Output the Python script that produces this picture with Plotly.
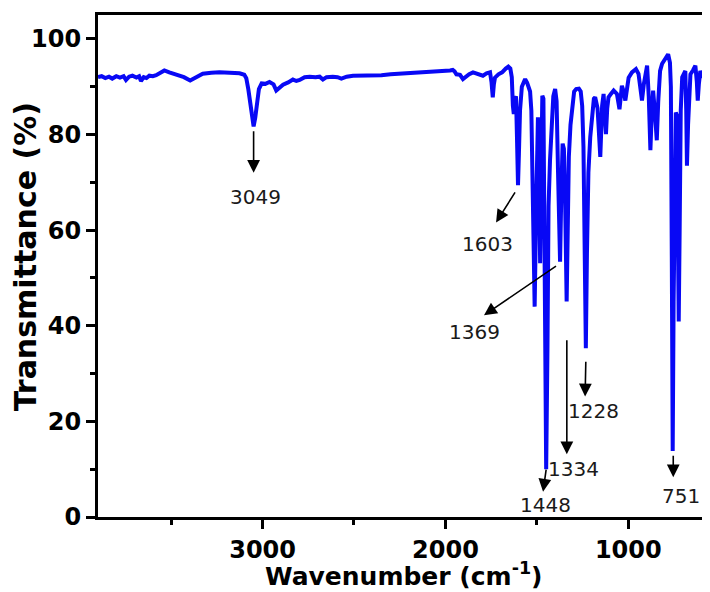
import plotly.graph_objects as go

# ---- spectrum data (wavenumber cm^-1, transmittance %) ----
wavenumber = [
    3900, 3880, 3860, 3840, 3822, 3800, 3780, 3760, 3747, 3730, 3712, 3690, 3675, 3665,
    3650, 3635, 3619, 3600, 3582, 3560, 3537, 3510, 3473, 3430, 3396, 3370, 3327, 3280,
    3236, 3180, 3126, 3100, 3089, 3078, 3071, 3060, 3049, 3040, 3031, 3020, 3005, 2985,
    2962, 2940, 2925, 2910, 2888, 2860, 2834, 2815, 2797, 2770, 2742, 2710, 2688, 2670,
    2650, 2616, 2590, 2569, 2540, 2505, 2450, 2400, 2350, 2300, 2250, 2200, 2150, 2100,
    2050, 2000, 1975, 1960, 1950, 1940, 1920, 1904, 1885, 1870, 1849, 1830, 1810, 1795,
    1775, 1756, 1748, 1741, 1735, 1729, 1710, 1690, 1670, 1656, 1645, 1637, 1631, 1626,
    1620, 1614, 1609, 1603, 1598, 1592, 1582, 1574, 1564, 1553, 1545, 1537, 1530, 1522,
    1512, 1503, 1494, 1489, 1482, 1476, 1470, 1464, 1458, 1449, 1442, 1436, 1428, 1420,
    1410, 1400, 1392, 1384, 1373, 1366, 1359, 1352, 1346, 1337, 1331, 1325, 1316, 1305,
    1296, 1285, 1270, 1260, 1252, 1245, 1238, 1232, 1226, 1218, 1208, 1199, 1188, 1181,
    1168, 1153, 1143, 1135, 1128, 1122, 1115, 1108, 1095, 1080, 1062, 1048, 1035, 1025,
    1016, 1005, 998, 980, 958, 944, 932, 925, 915, 897, 888, 879, 872, 864,
    855, 844, 836, 826, 815, 804, 790, 782, 772, 767, 762, 757, 752, 746,
    740, 734, 729, 724, 719, 713, 705, 695, 688, 683, 679, 673, 666, 660,
    645, 633, 625, 620, 614, 606, 598, 589, 580, 571, 563, 558, 550,
]
transmittance = [
    92.0, 92.2, 91.8, 92.1, 91.7, 92.2, 91.9, 92.2, 91.4, 92.1, 92.3, 91.9, 92.2, 91.2,
    92.0, 91.8, 92.3, 92.2, 92.4, 92.9, 93.4, 93.0, 92.6, 92.0, 91.3, 91.9, 92.7, 92.9,
    93.0, 92.9, 92.8, 92.5, 91.8, 89.5, 87.5, 83.5, 81.7, 83.5, 86.5, 89.5, 90.7, 90.6,
    91.0, 90.5, 89.2, 89.8, 90.4, 90.9, 91.5, 91.2, 91.4, 92.0, 92.1, 92.0, 92.1, 91.5,
    92.0, 92.1, 92.0, 91.7, 92.1, 92.3, 92.3, 92.5, 92.4, 92.6, 92.7, 92.8, 92.9, 93.0,
    93.1, 93.2, 93.4, 93.5, 93.2, 92.6, 92.5, 91.6, 92.3, 92.6, 93.0, 92.8, 92.5, 92.3,
    92.8, 93.0, 91.0, 87.8, 90.5, 91.9, 92.6, 93.0, 93.8, 94.2, 93.8, 92.0, 86.0, 84.3,
    87.5, 88.0, 80.0, 69.4, 76.0, 85.0, 90.0, 91.0, 91.6, 90.8, 89.8, 89.0, 85.0, 65.0,
    44.0, 66.0, 83.6, 75.0, 53.1, 72.0, 88.1, 87.5, 60.0, 10.0, 35.0, 65.0, 74.6, 82.0,
    88.0, 89.5, 87.0, 72.0, 53.4, 68.0, 78.1, 77.0, 68.0, 45.1, 62.0, 75.3, 82.0, 87.0,
    89.0, 89.5, 89.6, 89.0, 86.0, 77.4, 60.0, 35.3, 55.0, 72.0, 79.4, 84.3, 87.5, 87.8,
    85.5, 75.3, 86.0, 88.5, 85.0, 80.1, 85.5, 87.8, 88.5, 89.2, 88.5, 85.3, 90.2, 89.0,
    87.1, 90.5, 91.9, 93.0, 93.7, 92.7, 89.5, 87.1, 90.5, 94.4, 88.0, 76.7, 84.0, 89.2,
    85.0, 78.8, 87.0, 93.3, 94.8, 95.4, 96.2, 96.8, 95.0, 90.0, 55.0, 13.8, 45.0, 78.0,
    84.6, 84.0, 65.0, 40.9, 60.0, 85.0, 92.0, 93.0, 93.3, 85.0, 73.5, 82.0, 91.0, 92.6,
    93.5, 94.4, 91.0, 87.1, 90.5, 93.3, 92.5, 92.0, 92.4, 92.6, 93.2, 93.7, 93.5,
]

# ---- peak labels: text, label position, arrow tail, arrow head (data coords) ----
peak_labels = ["3049", "1603", "1369", "1228", "1334", "1448", "751"]
label_x = [3040, 1769, 1843, 1190, 1300, 1455, 709]
label_y = [66.9, 57.1, 38.6, 22.1, 10.1, 2.6, 4.3]
tail_x = [3049, 1614, 1387, 1232, 1336, 1448, 754]
tail_y = [81.0, 68.2, 52.7, 32.8, 37.3, 10.2, 13.1]
head_x = [3049, 1723, 1789, 1236, 1336, 1466, 754]
head_y = [72.0, 61.6, 42.2, 25.2, 13.1, 5.3, 8.3]

x_ticks = [3000, 2000, 1000]
y_ticks = [0, 20, 40, 60, 80, 100]

FONT = "DejaVu Sans"

fig = go.Figure()
fig.add_trace(go.Scatter(
    x=wavenumber, y=transmittance, mode="lines",
    line=dict(color="rgb(8,8,245)", width=4),
    hoverinfo="skip", showlegend=False,
))

annotations = []
for t, lx, ly, tx, ty, hx, hy in zip(peak_labels, label_x, label_y, tail_x, tail_y, head_x, head_y):
    annotations.append(dict(
        x=hx, y=hy, ax=tx, ay=ty, xref="x", yref="y", axref="x", ayref="y",
        text="", showarrow=True, arrowhead=2, arrowsize=1.6, arrowwidth=1.6,
        arrowcolor="black", standoff=0, startstandoff=0,
    ))
    annotations.append(dict(
        x=lx, y=ly, xref="x", yref="y", text=t, showarrow=False,
        font=dict(family=FONT, size=20, color="#1a1a1a"),
        xanchor="center", yanchor="middle",
    ))

# axis titles
annotations.append(dict(
    x=0.5, y=-0.1142, xref="paper", yref="paper",
    text="Wavenumber (cm<sup>-1</sup>)", showarrow=False,
    font=dict(family=FONT, size=25, color="black", weight="bold"),
    xanchor="center", yanchor="middle",
))
annotations.append(dict(
    x=-0.119, y=0.5176, xref="paper", yref="paper",
    text="Transmittance (%)", showarrow=False, textangle=-90,
    font=dict(family=FONT, size=30, color="black", weight="bold"),
    xanchor="center", yanchor="middle",
))

# the page places the figure 8 px from the top-left corner, so the figure is
# 8 px smaller and its left/top margins are 8 px smaller
fig.update_layout(
    width=702, height=584,
    margin=dict(l=90, r=0, t=7, b=75, pad=0),
    paper_bgcolor="white", plot_bgcolor="white",
    annotations=annotations,
    xaxis=dict(
        range=[3900, 553], tickvals=x_ticks, ticktext=[str(v) for v in x_ticks],
        showgrid=False, zeroline=False,
        showline=True, linecolor="black", linewidth=3, mirror=True,
        ticks="outside", ticklen=9, tickwidth=2.5, tickcolor="black",
        minor=dict(ticks="outside", ticklen=5, tickwidth=2.5, tickcolor="black",
                   tickvals=[3500, 2500, 1500]),
        tickfont=dict(family=FONT, size=24, color="black", weight="bold"),
    ),
    yaxis=dict(
        range=[0, 105], tickvals=y_ticks, ticktext=[str(v) for v in y_ticks],
        showgrid=False, zeroline=False,
        showline=True, linecolor="black", linewidth=3,
        ticks="outside", ticklen=9, tickwidth=2.5, tickcolor="black",
        minor=dict(ticks="outside", ticklen=5, tickwidth=2.5, tickcolor="black",
                   tickvals=[10, 30, 50, 70, 90]),
        tickfont=dict(family=FONT, size=24, color="black", weight="bold"),
    ),
)

fig.write_html("out.html")
